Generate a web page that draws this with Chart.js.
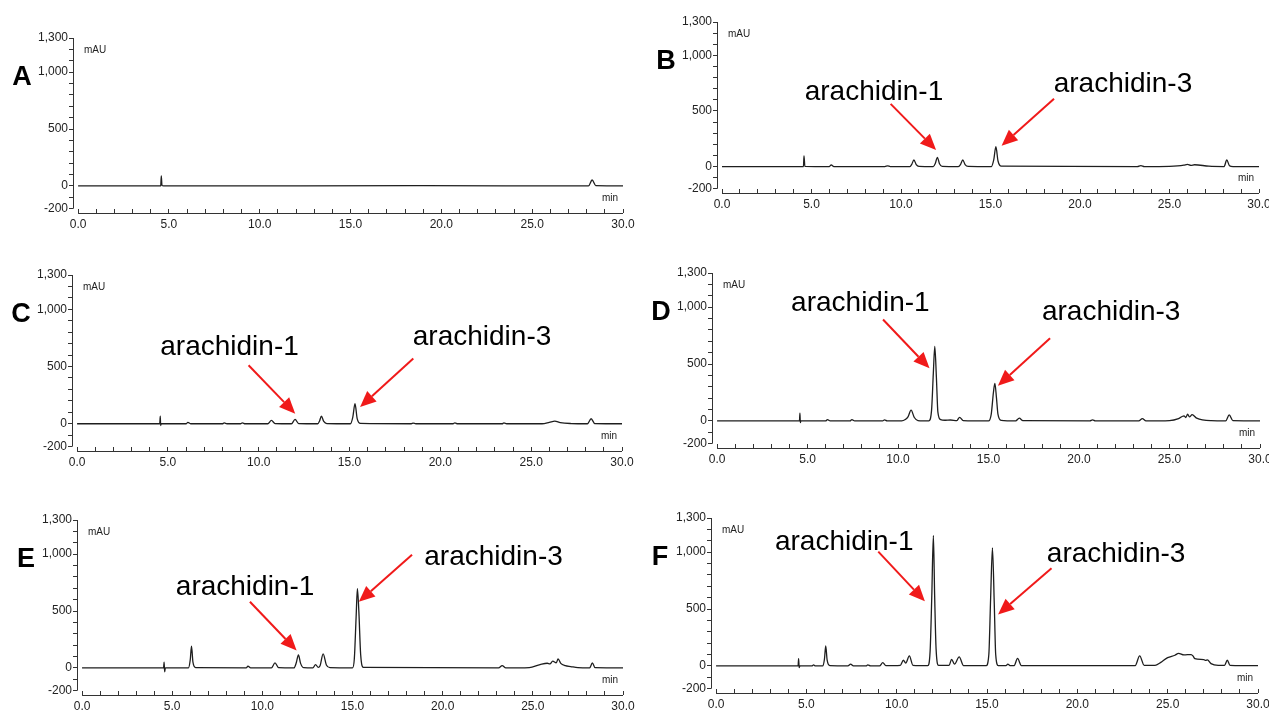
<!DOCTYPE html>
<html>
<head>
<meta charset="utf-8">
<title>HPLC chromatograms A-F</title>
<script src="https://cdn.jsdelivr.net/npm/chart.js@4.4.0/dist/chart.umd.min.js"></script>
<style>
  html, body { margin: 0; padding: 0; background: #fff; overflow: hidden; width: 1269px; height: 711px; }
  canvas { position: absolute; }
</style>
</head>
<body>
<canvas id="panelA" width="650" height="260" style="left:0px;top:0px"></canvas>
<canvas id="panelB" width="650" height="260" style="left:634px;top:0px"></canvas>
<canvas id="panelC" width="650" height="260" style="left:0px;top:230px"></canvas>
<canvas id="panelD" width="650" height="260" style="left:634px;top:230px"></canvas>
<canvas id="panelE" width="650" height="260" style="left:0px;top:465px"></canvas>
<canvas id="panelF" width="650" height="260" style="left:634px;top:465px"></canvas>
<script>
// axis ticks (labels only on the major ones)
const xMajorTicks = [0, 5, 10, 15, 20, 25, 30];
const yMajorTicks = [-200, 0, 500, 1000, 1300];
const xMinorStep = 1;
const yMinorStep = 100;

// retention time (min) / absorbance (mAU)
const timeA = [0, 4.55, 4.58, 4.62, 4.7, 19, 28.1, 28.3, 28.5, 30];
const signalA = [0, 0, 88, 3, 0, 2, 0, 52, 2, 0];

const timeB = [0, 4.55, 4.58, 4.63, 6.0, 6.1, 6.25, 9.1, 9.25, 9.4, 10.5, 10.6, 10.72, 10.85, 11.0,
  11.8, 11.92, 12.03, 12.15, 12.3, 13.2, 13.33, 13.45, 13.58, 13.75, 15.05, 15.18, 15.3, 15.42, 15.6,
  23.2, 23.4, 23.6, 25.0, 25.8, 26.0, 26.2, 26.4, 27.2, 28.05, 28.2, 28.35, 28.55, 30];
const signalB = [0, 0, 95, 2, 0, 15, 0, 0, 6, 0, 0, 20, 59, 18, 2,
  0, 30, 83, 25, 2, 0, 20, 59, 18, 2, 0, 60, 178, 50, 3,
  0, 9, 0, 2, 12, 20, 10, 16, 3, 0, 59, 8, 0, 0];

const timeC = [0, 4.55, 4.58, 4.6, 4.63, 6.0, 6.1, 6.25, 8.0, 8.1, 8.25, 9.0, 9.1, 9.25, 10.5, 10.7, 10.9,
  11.8, 12.0, 12.2, 13.25, 13.35, 13.45, 13.58, 13.75, 15.05, 15.18, 15.3, 15.42, 15.6,
  18.4, 18.5, 18.65, 20.7, 20.8, 20.95, 23.4, 23.5, 23.65, 25.6, 26.0, 26.3, 26.6, 27.2, 28.1, 28.3, 28.5, 30];
const signalC = [0, 0, 67, -15, 0, 0, 12, 0, 0, 7, 0, 0, 8, 0, 0, 29, 2,
  0, 38, 2, 0, 25, 67, 20, 2, 0, 58, 175, 45, 3,
  0, 6, 0, 0, 8, 0, 0, 7, 0, 0, 12, 23, 10, 2, 0, 44, 2, 0];

const timeD = [0, 4.55, 4.58, 4.6, 4.63, 6.0, 6.1, 6.25, 7.35, 7.45, 7.6, 9.15, 9.25, 9.4,
  10.2, 10.4, 10.55, 10.72, 10.9, 11.1, 11.7, 11.85, 11.95, 12.03, 12.12, 12.2, 12.35, 12.6, 12.9,
  13.25, 13.4, 13.6, 15.0, 15.15, 15.27, 15.35, 15.44, 15.52, 15.7, 16.5, 16.7, 16.9,
  20.6, 20.75, 20.9, 23.3, 23.5, 23.7, 25.0, 25.5, 25.8, 25.9, 26.0, 26.1, 26.25, 26.5, 27.3,
  28.1, 28.3, 28.5, 30];
const signalD = [0, 0, 68, -15, 0, 0, 12, 0, 0, 12, 0, 0, 10, 0,
  0, 12, 35, 94, 30, 3, 0, 90, 420, 655, 380, 80, 12, 6, 8,
  3, 32, 3, 0, 60, 250, 330, 200, 60, 5, 0, 24, 2,
  0, 9, 0, 0, 20, 0, 3, 20, 45, 30, 59, 35, 55, 25, 2,
  0, 53, 2, 0];

const timeE = [0, 4.52, 4.55, 4.58, 4.62, 5.9, 6.0, 6.07, 6.15, 6.3, 9.1, 9.2, 9.35, 10.5, 10.7, 10.9,
  11.75, 11.88, 12.0, 12.12, 12.3, 12.8, 12.95, 13.1, 13.2, 13.37, 13.55, 13.75,
  15.0, 15.1, 15.2, 15.27, 15.35, 15.45, 15.6, 23.1, 23.3, 23.5,
  24.8, 25.4, 25.8, 25.95, 26.1, 26.3, 26.4, 26.55, 26.8, 27.1, 27.5, 28.15, 28.3, 28.45, 30];
const signalE = [0, 0, 50, -35, 0, 0, 70, 191, 50, 2, 0, 15, 0, 0, 44, 2,
  0, 45, 115, 40, 2, 0, 29, 5, 20, 124, 25, 2,
  0, 80, 450, 697, 500, 120, 5, 0, 20, 0,
  3, 29, 41, 35, 59, 45, 79, 40, 20, 12, 2, 0, 44, 2, 0];

const timeF = [0, 4.54, 4.57, 4.6, 4.64, 5.3, 5.4, 5.5, 5.9, 6.0, 6.07, 6.15, 6.3, 7.3, 7.45, 7.6,
  8.3, 8.4, 8.55, 9.05, 9.23, 9.4, 10.2, 10.37, 10.5, 10.7, 10.9,
  11.72, 11.85, 11.94, 12.03, 12.1, 12.18, 12.32, 12.9, 13.04, 13.2, 13.46, 13.7,
  14.95, 15.1, 15.2, 15.3, 15.4, 15.48, 15.62, 16.05, 16.15, 16.3, 16.5, 16.69, 16.9,
  23.2, 23.45, 23.7, 24.3, 24.6, 25.0, 25.4, 25.6, 25.9, 26.3, 26.4, 26.5, 27.0, 27.1, 27.2, 27.4, 27.8,
  28.15, 28.3, 28.45, 30];
const signalF = [0, 0, 64, -15, 0, 0, 9, 0, 0, 60, 175, 50, 2, 0, 15, 0,
  0, 9, 0, 0, 29, 2, 5, 50, 25, 88, 5,
  2, 130, 600, 1146, 620, 150, 5, 5, 58, 15, 79, 3,
  2, 100, 600, 1038, 550, 100, 3, 2, 15, 2, 3, 67, 3,
  2, 88, 5, 5, 29, 73, 94, 111, 97, 100, 88, 64, 55, 48, 53, 20, 5,
  5, 50, 5, 2];

const peakNames = ['arachidin-1', 'arachidin-3'];

// page placement: canvas origin and the plot box (page px) of each panel
const panels = [
  { id: 'panelA', letter: 'A', times: timeA, values: signalA, origin: [0, 0],
    box: { left: 73, right: 623, top: 38, bottom: 213 }, notes: [] },
  { id: 'panelB', letter: 'B', times: timeB, values: signalB, origin: [634, 0],
    box: { left: 717, right: 1259, top: 22, bottom: 193 },
    notes: [
      { text: peakNames[0], at: [4.62, 602], tail: [9.42, 564], head: [11.96, 148] },
      { text: peakNames[1], at: [18.53, 674], tail: [18.55, 609], head: [15.62, 187] }
    ] },
  { id: 'panelC', letter: 'C', times: timeC, values: signalC, origin: [0, 230],
    box: { left: 72, right: 622, top: 275, bottom: 451 },
    notes: [
      { text: peakNames[0], at: [4.58, 599], tail: [9.44, 511], head: [12.01, 88] },
      { text: peakNames[1], at: [18.48, 687], tail: [18.51, 570], head: [15.58, 146] }
    ] },
  { id: 'panelD', letter: 'D', times: timeD, values: signalD, origin: [634, 230],
    box: { left: 712, right: 1260, top: 273, bottom: 448 },
    notes: [
      { text: peakNames[0], at: [4.09, 962], tail: [9.17, 891], head: [11.74, 462] },
      { text: peakNames[1], at: [17.95, 883], tail: [18.4, 727], head: [15.52, 309] }
    ] },
  { id: 'panelE', letter: 'E', times: timeE, values: signalE, origin: [0, 465],
    box: { left: 77, right: 623, top: 520, bottom: 695 },
    notes: [
      { text: peakNames[0], at: [5.2, 640], tail: [9.31, 581], head: [11.9, 153] },
      { text: peakNames[1], at: [18.98, 906], tail: [18.3, 995], head: [15.35, 581] }
    ] },
  { id: 'panelF', letter: 'F', times: timeF, values: signalF, origin: [634, 465],
    box: { left: 711, right: 1258, top: 518, bottom: 693 },
    notes: [
      { text: peakNames[0], at: [3.26, 1019], tail: [8.98, 1004], head: [11.56, 568] },
      { text: peakNames[1], at: [18.31, 917], tail: [18.57, 859], head: [15.61, 452] }
    ] }
];

const FONT = "'Liberation Sans', Arial, Helvetica, sans-serif";
const Y_AXIS_W = 45;
const X_AXIS_H = 20;
Chart.defaults.font.family = FONT;

function range(from, to, step) {
  const out = [];
  for (let v = from; v <= to + 1e-9; v += step) out.push(Math.round(v * 1000) / 1000);
  return out;
}
const xTickValues = range(xMajorTicks[0], xMajorTicks[xMajorTicks.length - 1], xMinorStep);
const yTickValues = range(yMajorTicks[0], yMajorTicks[yMajorTicks.length - 1], yMinorStep);

function drawArrow(ctx, x1, y1, x2, y2) {
  const ang = Math.atan2(y2 - y1, x2 - x1);
  const headLen = 16, headW = 7;
  const bx = x2 - headLen * Math.cos(ang), by = y2 - headLen * Math.sin(ang);
  ctx.strokeStyle = '#f01a1a';
  ctx.fillStyle = '#f01a1a';
  ctx.lineWidth = 2;
  ctx.beginPath();
  ctx.moveTo(x1, y1);
  ctx.lineTo(bx, by);
  ctx.stroke();
  ctx.beginPath();
  ctx.moveTo(x2, y2);
  ctx.lineTo(bx + headW * Math.sin(ang), by - headW * Math.cos(ang));
  ctx.lineTo(bx - headW * Math.sin(ang), by + headW * Math.cos(ang));
  ctx.closePath();
  ctx.fill();
}

// axis lines, unit labels, panel letter and the red arrows
function decorPlugin(panel) {
  return {
    id: 'decor',
    afterDraw(chart) {
      const { ctx, chartArea } = chart;
      const xs = chart.scales.x, ys = chart.scales.y;
      const lx = Math.round(chartArea.left - 0.5) + 0.5;
      const by = Math.round(chartArea.bottom - 0.5) + 0.5;
      ctx.save();
      ctx.strokeStyle = '#333';
      ctx.lineWidth = 1;
      ctx.beginPath();
      ctx.moveTo(lx, ys.getPixelForValue(yMajorTicks[yMajorTicks.length - 1]));
      ctx.lineTo(lx, ys.getPixelForValue(yMajorTicks[0]));
      ctx.moveTo(xs.getPixelForValue(xMajorTicks[0]), by);
      ctx.lineTo(xs.getPixelForValue(xMajorTicks[xMajorTicks.length - 1]), by);
      ctx.stroke();

      ctx.fillStyle = '#222';
      ctx.font = '10px ' + FONT;
      ctx.textBaseline = 'middle';
      ctx.textAlign = 'left';
      ctx.fillText('mAU', chartArea.left + 11, chartArea.top + 12);
      ctx.textAlign = 'right';
      ctx.fillText('min', chartArea.right - 5, chartArea.bottom - 15);

      ctx.fillStyle = '#000';
      ctx.font = 'bold 27px ' + FONT;
      ctx.textAlign = 'center';
      ctx.fillText(panel.letter, chartArea.left - 51, chartArea.top + 40);

      ctx.font = '28px ' + FONT;
      ctx.textAlign = 'left';
      ctx.textBaseline = 'alphabetic';
      panel.notes.forEach(n => {
        ctx.fillStyle = '#000';
        ctx.fillText(n.text, xs.getPixelForValue(n.at[0]), ys.getPixelForValue(n.at[1]));
        drawArrow(ctx,
          xs.getPixelForValue(n.tail[0]), ys.getPixelForValue(n.tail[1]),
          xs.getPixelForValue(n.head[0]), ys.getPixelForValue(n.head[1]));
      });
      ctx.restore();
    }
  };
}

function makePanel(panel) {
  const canvas = document.getElementById(panel.id);
  const [ox, oy] = panel.origin;
  const b = panel.box;
  const padding = {
    left: b.left - ox - Y_AXIS_W,
    right: canvas.width - (b.right - ox),
    top: b.top - oy,
    bottom: canvas.height - (b.bottom - oy) - X_AXIS_H
  };

  return new Chart(canvas, {
    type: 'line',
    data: {
      datasets: [{
        data: panel.times.map((t, i) => ({ x: t, y: panel.values[i] })),
        borderColor: '#1e1e1e',
        borderWidth: 1.3,
        pointRadius: 0,
        fill: false,
        cubicInterpolationMode: 'monotone'
      }]
    },
    options: {
      responsive: false,
      animation: false,
      layout: { padding: padding },
      plugins: { legend: { display: false }, tooltip: { enabled: false } },
      scales: {
        x: {
          type: 'linear',
          min: -0.28,
          max: 30,
          afterBuildTicks: s => { s.ticks = xTickValues.map(v => ({ value: v })); },
          afterFit: s => { s.height = X_AXIS_H; },
          border: { display: false },
          grid: { drawOnChartArea: false, tickLength: -4, color: '#333' },
          ticks: {
            autoSkip: false, maxRotation: 0, padding: 8, color: '#222',
            font: { size: 12 },
            callback: v => xMajorTicks.includes(v) ? v.toFixed(1) : ''
          }
        },
        y: {
          type: 'linear',
          min: -238,
          max: 1300,
          afterBuildTicks: s => { s.ticks = yTickValues.map(v => ({ value: v })); },
          afterFit: s => { s.width = Y_AXIS_W; },
          border: { display: false },
          grid: { drawOnChartArea: false, tickLength: 4, color: '#333' },
          ticks: {
            autoSkip: false, padding: 1, color: '#222',
            font: { size: 12 },
            callback: v => yMajorTicks.includes(v) ? v.toLocaleString('en-US') : ''
          }
        }
      }
    },
    plugins: [decorPlugin(panel)]
  });
}

panels.forEach(makePanel);
</script>
</body>
</html>
